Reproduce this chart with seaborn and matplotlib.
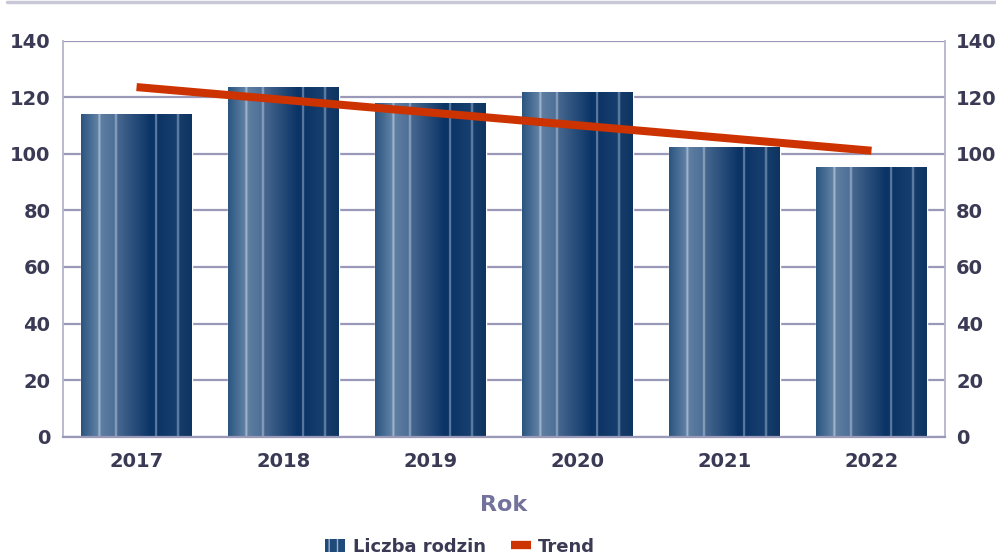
import numpy as np
import pandas as pd
import matplotlib
matplotlib.use('Agg')
import matplotlib.pyplot as plt
from matplotlib.colors import LinearSegmentedColormap
from matplotlib.patches import Patch
from matplotlib.lines import Line2D
import seaborn as sns

# data
years = ['2017', '2018', '2019', '2020', '2021', '2022']
families = [114, 123.5, 118, 122, 102.5, 95.5]
trend_years = [0, 5]          # positions of 2017 and 2022 on the category axis
trend_values = [123.6, 101.1]

text_col = '#3A3A55'
grid_col = '#9A9AB8'
red = '#CC3300'

sns.set_theme(style='white')
plt.rcParams['font.family'] = ['DejaVu Sans']

df = pd.DataFrame({'Rok': years, 'Liczba rodzin': families})

fig = plt.figure(figsize=(9.96, 5.59), dpi=100)
ax = fig.add_axes([0.0633, 0.2188, 0.8855, 0.7084])

sns.barplot(data=df, x='Rok', y='Liczba rodzin', color='#1F4A7A', width=0.75,
            saturation=1, ax=ax, zorder=2)

# metallic gradient for the bars
stops = [(0.0, '#2A5580'), (0.15, '#6080A4'), (0.165, '#B0C2D6'), (0.18, '#5E7EA2'),
         (0.30, '#4E6F97'), (0.315, '#9DB1C9'), (0.33, '#46678F'), (0.62, '#0C3567'),
         (0.665, '#0A3366'), (0.675, '#8AA2C0'), (0.69, '#0C3567'), (0.86, '#173F6E'),
         (0.875, '#7C97B9'), (0.89, '#153C6A'), (1.0, '#0E3461')]
cmap = LinearSegmentedColormap.from_list('metal', stops, N=512)
grad = np.linspace(0, 1, 512).reshape(1, -1)
for p in ax.patches:
    x0, w, h = p.get_x(), p.get_width(), p.get_height()
    im = ax.imshow(grad, cmap=cmap, aspect='auto', extent=(x0, x0 + w, 0, h),
                   zorder=2.5, interpolation='bilinear')
    im.set_clip_path(p)

sns.lineplot(x=trend_years, y=trend_values, color=red, lw=5.8, ax=ax, zorder=4,
             solid_capstyle='butt')

ax.set_xlim(-0.5, 5.5)
ax.set_ylim(0, 140)
ax.set_yticks(range(0, 141, 20))
ax.yaxis.grid(True, color=grid_col, lw=1.6, zorder=0)
ax.set_axisbelow(True)
for s in ['left', 'right']:
    ax.spines[s].set_color('#B4B4CC')
    ax.spines[s].set_linewidth(1.3)
ax.spines['bottom'].set_color(grid_col)
ax.spines['bottom'].set_linewidth(1.6)
ax.spines['top'].set_visible(False)

ax.tick_params(axis='y', length=0, pad=9, labelsize=14, labelcolor=text_col)
ax.tick_params(axis='x', length=0, pad=11, labelsize=14, labelcolor=text_col)
for lab in ax.get_xticklabels() + ax.get_yticklabels():
    lab.set_fontweight('bold')
ax.set_ylabel('')
ax.set_xlabel('Rok', fontsize=16, fontweight='bold', color='#72729C', labelpad=17)

ax2 = ax.twinx()
ax2.set_ylim(0, 140)
ax2.set_yticks(range(0, 141, 20))
ax2.tick_params(axis='y', length=0, pad=8, labelsize=14, labelcolor=text_col)
for lab in ax2.get_yticklabels():
    lab.set_fontweight('bold')
for s in ax2.spines.values():
    s.set_visible(False)
ax2.grid(False)

# thin grey band at the very top of the picture
fig.add_artist(Line2D([0.007, 1], [0.997, 0.997], color='#C8C8D8', lw=2.5,
                      transform=fig.transFigure))

handles = [Patch(facecolor='#1F4A7A', edgecolor='#9FB3CC', hatch='||', lw=0),
           Line2D([], [], color=red, lw=6, solid_capstyle='butt')]
leg = fig.legend(handles, ['Liczba rodzin', 'Trend'], loc='center',
                 bbox_to_anchor=(0.462, 0.022), ncol=2, frameon=False,
                 prop={'weight': 'bold', 'size': 13}, handlelength=1.1,
                 handletextpad=0.4, columnspacing=1.4)
for t in leg.get_texts():
    t.set_color(text_col)

fig.savefig('out.png', dpi=100)
